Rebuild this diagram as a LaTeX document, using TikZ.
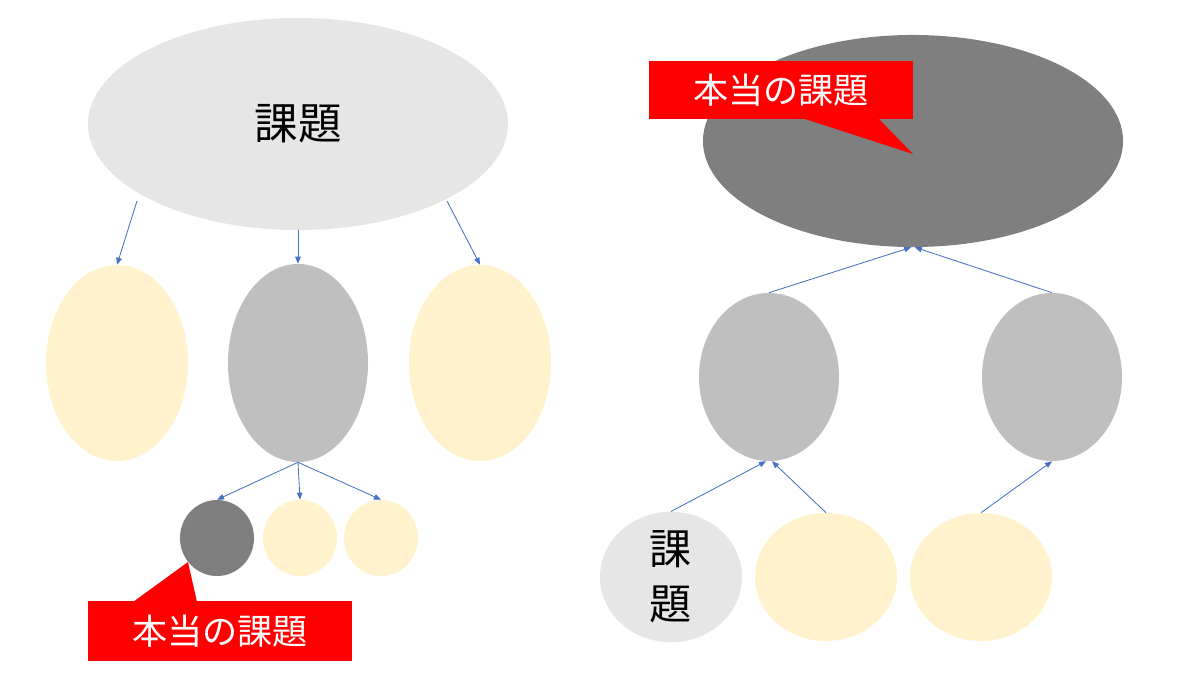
\documentclass[tikz,border=0pt]{standalone}
\usepackage{fontspec}
\newfontfamily\jp{Noto Sans CJK JP}
\usetikzlibrary{arrows.meta,shapes.geometric}
\definecolor{lightgrey}{HTML}{E7E6E6}
\definecolor{midgrey}{HTML}{BFBFBF}
\definecolor{darkgrey}{HTML}{7F7F7F}
\definecolor{paleyellow}{HTML}{FFF2CC}
\definecolor{arrowblue}{HTML}{4472C4}
\definecolor{calloutred}{HTML}{FF0000}

\begin{document}
\begin{tikzpicture}[x=0.025cm,y=-0.025cm]
    \useasboundingbox (0,0) rectangle (1200,675);

    % left tree
    \begin{scope}[every node/.style={ellipse,inner sep=0pt}]
      \node[fill=lightgrey,minimum width=10.5cm,minimum height=5.3cm,
            font=\jp\fontsize{31}{37}\selectfont] (top) at (298,124) {課題};
      \node[fill=paleyellow,minimum width=3.55cm,minimum height=4.9cm] (y1) at (117,363) {};
      \node[fill=midgrey,minimum width=3.5cm,minimum height=4.95cm] (mid) at (298,363) {};
      \node[fill=paleyellow,minimum width=3.55cm,minimum height=4.9cm] (y2) at (480,363) {};
      \node[fill=darkgrey,minimum width=1.85cm,minimum height=1.9cm] (real) at (217,538) {};
      \node[fill=paleyellow,minimum width=1.85cm,minimum height=1.9cm] (s1) at (300,538) {};
      \node[fill=paleyellow,minimum width=1.85cm,minimum height=1.9cm] (s2) at (381,538) {};
    \end{scope}

    % right tree
    \begin{scope}[every node/.style={ellipse,inner sep=0pt}]
      \node[fill=darkgrey,minimum width=10.5cm,minimum height=5.3cm] (big) at (913,141) {};
      \node[fill=midgrey,minimum width=3.5cm,minimum height=4.2cm] (g1) at (769,377) {};
      \node[fill=midgrey,minimum width=3.5cm,minimum height=4.2cm] (g2) at (1052,377) {};
      \node[fill=lightgrey,minimum width=3.55cm,minimum height=3.2cm,align=center,
            font=\jp\fontsize{30}{39}\selectfont] (k) at (671,577) {課\\題};
      \node[fill=paleyellow,minimum width=3.55cm,minimum height=3.2cm] (y3) at (826,577) {};
      \node[fill=paleyellow,minimum width=3.55cm,minimum height=3.2cm] (y4) at (981,577) {};
    \end{scope}

    \begin{scope}[>={Triangle[length=5pt,width=4pt]},
        every edge/.style={draw=arrowblue,line width=0.6pt}]
      \path [->] ([shift={(-161,77)}]top.center) edge (y1.north);
      \path [->] (top.south) edge (mid.north);
      \path [->] ([shift={(149,77)}]top.center) edge (y2.north);
      \path [->] (mid.south) edge (real.north);
      \path [->] (mid.south) edge (s1.north);
      \path [->] (mid.south) edge (s2.north);
      \path [->] (g1.north) edge (big.-91);
      \path [->] (g2.north) edge (big.-89);
      \path [->] (k.north) edge (g1.-92);
      \path [->] (y3.north) edge (g1.-88);
      \path [->] (y4.north) edge (g2.south);
    \end{scope}

    % callouts
    \begin{scope}[every node/.style={fill=calloutred,text=white,inner sep=0pt,
        font=\jp\fontsize{25}{30}\selectfont}]
      \fill[calloutred] (133,602) -- (188,562) -- (197,602) -- cycle;
      \node[minimum width=6.6cm,minimum height=1.5cm] (call1) at (220,631) {本当の課題};
      \fill[calloutred] (802,118) -- (913,154) -- (878,118) -- cycle;
      \node[minimum width=6.6cm,minimum height=1.45cm] (call2) at (781,90) {本当の課題};
    \end{scope}
  \end{tikzpicture}
\end{document}
